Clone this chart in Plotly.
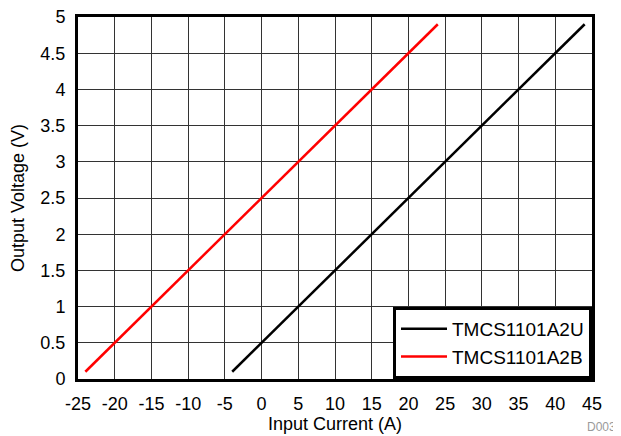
import plotly.graph_objects as go

current_u = [-4, 0, 5, 10, 15, 20, 25, 30, 35, 40, 44]
voltage_u = [0.1, 0.5, 1.0, 1.5, 2.0, 2.5, 3.0, 3.5, 4.0, 4.5, 4.9]
current_b = [-24, -20, -15, -10, -5, 0, 5, 10, 15, 20, 24]
voltage_b = [0.1, 0.5, 1.0, 1.5, 2.0, 2.5, 3.0, 3.5, 4.0, 4.5, 4.9]

x_ticks = list(range(-25, 50, 5))
x_labels = [str(v) for v in x_ticks]  # plain hyphen minus, like the reference
y_ticks = [0, 0.5, 1, 1.5, 2, 2.5, 3, 3.5, 4, 4.5, 5]
y_labels = ['0', '0.5', '1', '1.5', '2', '2.5', '3', '3.5', '4', '4.5', '5']

font_family = 'Liberation Sans, Arial, sans-serif'

fig = go.Figure()
fig.add_trace(go.Scatter(
    x=current_u, y=voltage_u, mode='lines', name='TMCS1101A2U',
    line=dict(color='black', width=2.5)
))
fig.add_trace(go.Scatter(
    x=current_b, y=voltage_b, mode='lines', name='TMCS1101A2B',
    line=dict(color='red', width=2.5)
))

axis_common = dict(
    showgrid=True, gridcolor='#333333', gridwidth=1,
    showline=True, linecolor='black', linewidth=3, mirror=True,
    zeroline=False, ticks='', automargin=False, ticklabeloverflow='allow',
    tickfont=dict(size=18, color='black'),
)

# the page body keeps its default 8px margin, so the figure is 8px smaller
fig.update_layout(
    width=613, height=428,
    margin=dict(l=70, r=29, t=9, b=57),
    plot_bgcolor='white', paper_bgcolor='white',
    font=dict(family=font_family, color='black'),
    xaxis=dict(
        range=[-25, 45], tickvals=x_ticks, ticktext=x_labels,
        ticklabelstandoff=6,
        title=dict(text='Input Current (A)', font=dict(size=18), standoff=0),
        **axis_common
    ),
    yaxis=dict(
        range=[0, 5], tickvals=y_ticks, ticktext=y_labels,
        ticklabelstandoff=6,
        title=dict(text='Output Voltage (V)', font=dict(size=18), standoff=14),
        **axis_common
    ),
    legend=dict(
        x=1, y=0, xanchor='right', yanchor='bottom',
        bgcolor='white', bordercolor='black', borderwidth=3,
        font=dict(size=19), tracegroupgap=0, itemwidth=46,
    ),
    showlegend=True,
    annotations=[dict(
        text='D003', x=1, y=0, xref='paper', yref='paper',
        xanchor='right', yanchor='middle', xshift=26, yshift=-48,
        showarrow=False, font=dict(size=12, color='#9a9a9a')
    )]
)

fig.write_html('out.html')
